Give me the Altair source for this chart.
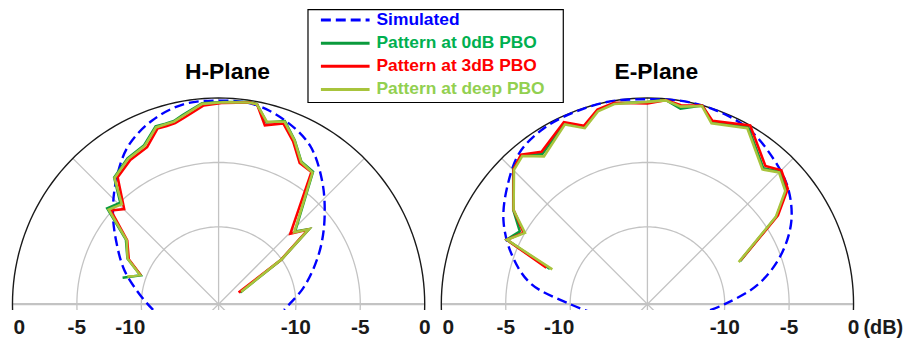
import altair as alt
import pandas as pd

# ---------------- data (angle in degrees from broadside, level in dB) ----------------
planes = ["H-Plane", "E-Plane"]
series_names = ["Simulated", "Pattern at 0dB PBO", "Pattern at 3dB PBO", "Pattern at deep PBO"]
line_colors = ["#0000ff", "#0a9a3c", "#ff0000", "#a8c43c"]
text_colors = ["#0000ff", "#00b050", "#ff0000", "#92d050"]

grid_db = [0, -5, -10]
spoke_angles = [-45, 0, 45]
tick_db = [0, -5, -10]

# Simulated patterns
sim_ang_h = [-95, -90, -80, -70, -60, -50, -40, -30, -20, -10, 0, 10, 20, 30, 40, 50, 60, 70, 80, 90, 95]
sim_db_h = [-10.9, -10.5, -9.5, -8.2, -6.9, -5.3, -3.6, -1.9, -0.85, -0.25, -0.2, -0.25, -0.85, -1.8, -3.5, -5.25, -6.8, -8.2, -9.4, -10.5, -10.9]
sim_ang_e = [-100, -90, -80, -70, -60, -50, -40, -30, -20, -10, 0, 10, 20, 30, 40, 50, 60, 70, 80, 90, 100]
sim_db_e = [-11.8, -10.0, -6.8, -4.8, -3.1, -1.8, -0.6, -0.15, -0.05, 0.0, -0.1, 0.0, -0.05, -0.3, -1.0, -1.8, -3.1, -5.0, -7.3, -10.0, -11.8]

# H-plane measurements
h_ang_0 = [-74.6, -69.7, -63.4, -55.1, -49.3, -44.1, -39.5, -32.0, -25.1, -19.5, -16.4, -13.7, -10.9, -4.7, 1.4, 8.4, 10.8, 14.8, 19.9, 24.9, 30.2, 35.5, 46.5, 50.3, 54.6, 61.7]
h_db_0 = [-8.27, -9.56, -8.09, -7.23, -4.60, -5.04, -3.26, -2.66, -2.38, -1.36, -1.40, -1.37, -1.08, -0.35, -0.30, -0.14, -0.17, -1.41, -0.89, -1.97, -3.22, -3.38, -7.82, -6.88, -10.01, -14.1]
h_ang_3 = [-69.7, -63.4, -55.1, -49.0, -44.8, -38.5, -31.5, -24.5, -19.2, -16.2, -13.5, -10.6, -4.3, 1.4, 8.6, 10.9, 14.5, 19.7, 24.6, 29.9, 35.1, 45.5, 50.2, 54.6, 59.7]
h_db_3 = [-9.56, -8.2, -7.35, -4.93, -5.6, -3.41, -2.88, -2.61, -1.57, -1.6, -1.55, -1.3, -0.53, -0.37, -0.16, -0.2, -1.66, -1.10, -2.1, -3.37, -3.47, -8.19, -6.96, -10.05, -14.2]
h_ang_d = [-73.2, -69.7, -63.4, -55.1, -49.3, -44.1, -39.5, -32.0, -25.1, -19.5, -16.4, -13.7, -10.9, -4.7, 1.4, 8.4, 10.8, 14.8, 19.9, 24.9, 30.2, 35.5, 46.5, 50.3, 54.6, 61.0]
h_db_d = [-8.61, -9.5, -8.1, -7.3, -4.75, -5.2, -3.3, -2.72, -2.45, -1.45, -1.45, -1.42, -1.15, -0.4, -0.33, -0.18, -0.2, -1.35, -0.95, -2.0, -3.25, -3.45, -7.9, -6.9, -10.0, -14.0]

# E-plane measurements
e_ang_0 = [-70.1, -65.4, -60.3, -54.9, -44.8, -40.2, -35.0, -24.65, -19.6, -14.4, -9.4, 0.0, 5.1, 9.6, 15.4, 19.5, 29.6, 40.5, 45.0, 50.6, 55.8, 65.1]
e_db_0 = [-7.95, -3.98, -4.6, -3.27, -1.22, -0.86, -1.78, -0.58, -1.41, -0.48, -0.19, -0.32, -0.09, -0.62, 0.0, -1.0, -0.18, -2.14, -1.46, -2.03, -3.88, -8.07]
e_ang_3 = [-70.2, -65.4, -60.0, -54.9, -44.8, -40.2, -34.8, -24.65, -19.6, -14.4, -9.4, 0.0, 5.1, 9.6, 15.4, 19.5, 29.9, 40.5, 45.0, 50.6, 55.8, 64.8]
e_db_3 = [-7.66, -4.0, -4.9, -3.3, -1.25, -0.8, -1.6, -0.45, -1.3, -0.4, -0.15, -0.42, -0.1, -0.35, 0.0, -0.9, 0.0, -1.9, -1.3, -1.9, -3.75, -8.0]
e_ang_d = [-69.9, -65.4, -59.8, -54.9, -44.8, -40.2, -35.0, -24.65, -19.6, -14.4, -9.4, 0.0, 5.1, 9.6, 15.4, 19.5, 29.6, 40.5, 45.0, 50.6, 55.8, 65.3]
e_db_d = [-8.14, -4.0, -5.0, -3.3, -1.3, -0.95, -2.0, -0.65, -1.5, -0.55, -0.25, -0.3, -0.12, -0.45, -0.05, -1.1, -0.3, -2.25, -1.55, -2.15, -3.95, -8.2]

# ---------------- layout constants ----------------
PX = 12.969            # pixels per dB on the radial scale
W, H = 903, 303        # plot area (clip) size
CX_LEFT = 212          # pixel x of H-plane centre inside plot area
BASE_Y = 297           # pixel y of the baseline inside plot area
E_OFF = 431.7 / PX     # horizontal distance between the two centres, in dB units
X_MIN = -CX_LEFT / PX
X_MAX = X_MIN + W / PX
Y_MIN = -(H - BASE_Y) / PX
Y_MAX = Y_MIN + H / PX

FONT = "Liberation Sans, Arial, sans-serif"


def rows(plane, series, angles, dbs):
    return [dict(plane=plane, series=series, idx=i, ang=a, db=d)
            for i, (a, d) in enumerate(zip(angles, dbs))]


sim_df = pd.DataFrame(rows("H-Plane", series_names[0], sim_ang_h, sim_db_h)
                      + rows("E-Plane", series_names[0], sim_ang_e, sim_db_e))
meas = {
    series_names[1]: pd.DataFrame(rows("H-Plane", series_names[1], h_ang_0, h_db_0)
                                  + rows("E-Plane", series_names[1], e_ang_0, e_db_0)),
    series_names[2]: pd.DataFrame(rows("H-Plane", series_names[2], h_ang_3, h_db_3)
                                  + rows("E-Plane", series_names[2], e_ang_3, e_db_3)),
    series_names[3]: pd.DataFrame(rows("H-Plane", series_names[3], h_ang_d, h_db_d)
                                  + rows("E-Plane", series_names[3], e_ang_d, e_db_d)),
}

# grid geometry
ring_rows = []
for p in planes:
    for g in grid_db:
        for i, a in enumerate(range(-100, 101, 2)):
            ring_rows.append(dict(plane=p, key=f"{p}{g}", idx=i, ang=a, db=g))
ring_df = pd.DataFrame(ring_rows)

spoke_rows = []
for p in planes:
    for s in spoke_angles:
        spoke_rows.append(dict(plane=p, key=f"{p}{s}", idx=0, ang=s, db=0))
        spoke_rows.append(dict(plane=p, key=f"{p}{s}", idx=1, ang=s + 180, db=0))
spoke_df = pd.DataFrame(spoke_rows)

base_df = pd.DataFrame([dict(plane=p, key=p, idx=i, ang=a, db=0)
                        for p in planes for i, a in enumerate([-90, 90])])

tick_df = pd.DataFrame([dict(plane=p, side=s, db=t, label=str(t))
                        for p in planes for s in (-1, 1) for t in tick_db])
title_df = pd.DataFrame({"plane": planes})
unit_df = pd.DataFrame({"plane": ["E-Plane"], "db": [0], "label": ["(dB)"]})
legend_df = pd.DataFrame({"name": series_names, "lcolor": line_colors,
                          "tcolor": text_colors, "row": list(range(len(series_names)))})

xs = alt.Scale(domain=[X_MIN, X_MAX], nice=False, zero=False)
ys = alt.Scale(domain=[Y_MIN, Y_MAX], nice=False, zero=False)
X = alt.X("x:Q", scale=xs, axis=None)
Y = alt.Y("y:Q", scale=ys, axis=None)


def polar(chart):
    return (chart
            .transform_calculate(off=f"datum.plane == 'E-Plane' ? {E_OFF} : 0")
            .transform_calculate(rad="datum.db + 16")
            .transform_calculate(x="datum.off + datum.rad * sin(datum.ang * PI / 180)")
            .transform_calculate(y="datum.rad * cos(datum.ang * PI / 180)"))


inner_rings = polar(alt.Chart(ring_df).transform_filter("datum.db != 0")
                    .mark_line(clip=True, color="#c3c3c3", strokeWidth=1.3)
                    .encode(x=X, y=Y, detail="key:N", order="idx:Q"))
spokes = polar(alt.Chart(spoke_df)
               .mark_line(clip=True, color="#c3c3c3", strokeWidth=1.3)
               .encode(x=X, y=Y, detail="key:N", order="idx:Q"))
baseline = polar(alt.Chart(base_df)
                 .mark_line(clip=True, color="#c3c3c3", strokeWidth=2.2)
                 .encode(x=X, y=Y, detail="key:N", order="idx:Q"))
outer_ring = polar(alt.Chart(ring_df).transform_filter("datum.db == 0")
                   .mark_line(clip=True, color="#1a1a1a", strokeWidth=1.4)
                   .encode(x=X, y=Y, detail="key:N", order="idx:Q"))

sim = polar(alt.Chart(sim_df)
            .mark_line(clip=True, color=line_colors[0], strokeWidth=2.4,
                       strokeDash=[10, 5], interpolate="catmull-rom")
            .encode(x=X, y=Y, detail="plane:N", order="idx:Q"))

meas_layers = []
for name, col in zip(series_names[1:], line_colors[1:]):
    meas_layers.append(polar(alt.Chart(meas[name])
                             .mark_line(clip=True, color=col, strokeWidth=2.6,
                                        strokeJoin="miter")
                             .encode(x=X, y=Y, detail="plane:N", order="idx:Q")))

ticks = (alt.Chart(tick_df)
         .transform_calculate(off=f"datum.plane == 'E-Plane' ? {E_OFF} : 0")
         .transform_calculate(nud="datum.side < 0 && datum.db == 0 ? 7 : (datum.side < 0 && datum.db == -10 ? -11 : 0)")
         .transform_calculate(x=f"datum.off + datum.side * (datum.db + 16) + datum.nud / {PX}")
         .mark_text(font=FONT, fontSize=21, fontWeight="bold", color="#1a1a1a",
                    align="center", baseline="alphabetic")
         .encode(x=X, y=alt.value(327), text="label:N"))

unit = (alt.Chart(unit_df)
        .transform_calculate(x=f"{E_OFF} + datum.db + 16")
        .mark_text(font=FONT, fontSize=20, fontWeight="bold", color="#1a1a1a",
                   align="left", baseline="alphabetic", dx=10)
        .encode(x=X, y=alt.value(327), text="label:N"))

titles = (alt.Chart(title_df)
          .transform_calculate(x=f"datum.plane == 'E-Plane' ? {E_OFF} : 0")
          .mark_text(font=FONT, fontSize=23, fontWeight="bold", color="#000000",
                     align="center", baseline="alphabetic", dx=9)
          .encode(x=X, y=alt.value(70), text="plane:N"))

# legend box (drawn as marks)
legend_box = (alt.Chart(pd.DataFrame({"k": [0]}))
              .mark_rect(fill="white", stroke="#000000", strokeWidth=1.2)
              .encode(x=alt.value(302), x2=alt.value(559), y=alt.value(0.6), y2=alt.value(94)))
leg = alt.Chart(legend_df).transform_calculate(ly="11 + 23.3 * datum.row")
legend_dash = (leg.transform_filter("datum.row == 0")
               .mark_rule(strokeWidth=3, strokeDash=[10, 5])
               .encode(x=alt.value(315), x2=alt.value(364),
                       y=alt.Y("ly:Q", scale=None), stroke=alt.Stroke("lcolor:N", scale=None)))
legend_solid = (leg.transform_filter("datum.row > 0")
                .mark_rule(strokeWidth=3)
                .encode(x=alt.value(315), x2=alt.value(364),
                        y=alt.Y("ly:Q", scale=None), stroke=alt.Stroke("lcolor:N", scale=None)))
legend_text = (leg.mark_text(font=FONT, fontSize=17.5, fontWeight="bold",
                             align="left", baseline="middle")
               .encode(x=alt.value(371), y=alt.Y("ly:Q", scale=None),
                       text="name:N", fill=alt.Fill("tcolor:N", scale=None)))

chart = alt.layer(
    inner_rings, spokes, baseline, outer_ring, sim, *meas_layers,
    ticks, unit, titles, legend_box, legend_dash, legend_solid, legend_text
).properties(
    width=W, height=H,
    autosize=alt.AutoSizeParams(type="none"),
    padding={"left": 0, "top": 0, "right": 0, "bottom": 32},
    background="white",
).configure_view(stroke=None)

chart.save("out.html", embed_options={"renderer": "svg", "actions": False})
